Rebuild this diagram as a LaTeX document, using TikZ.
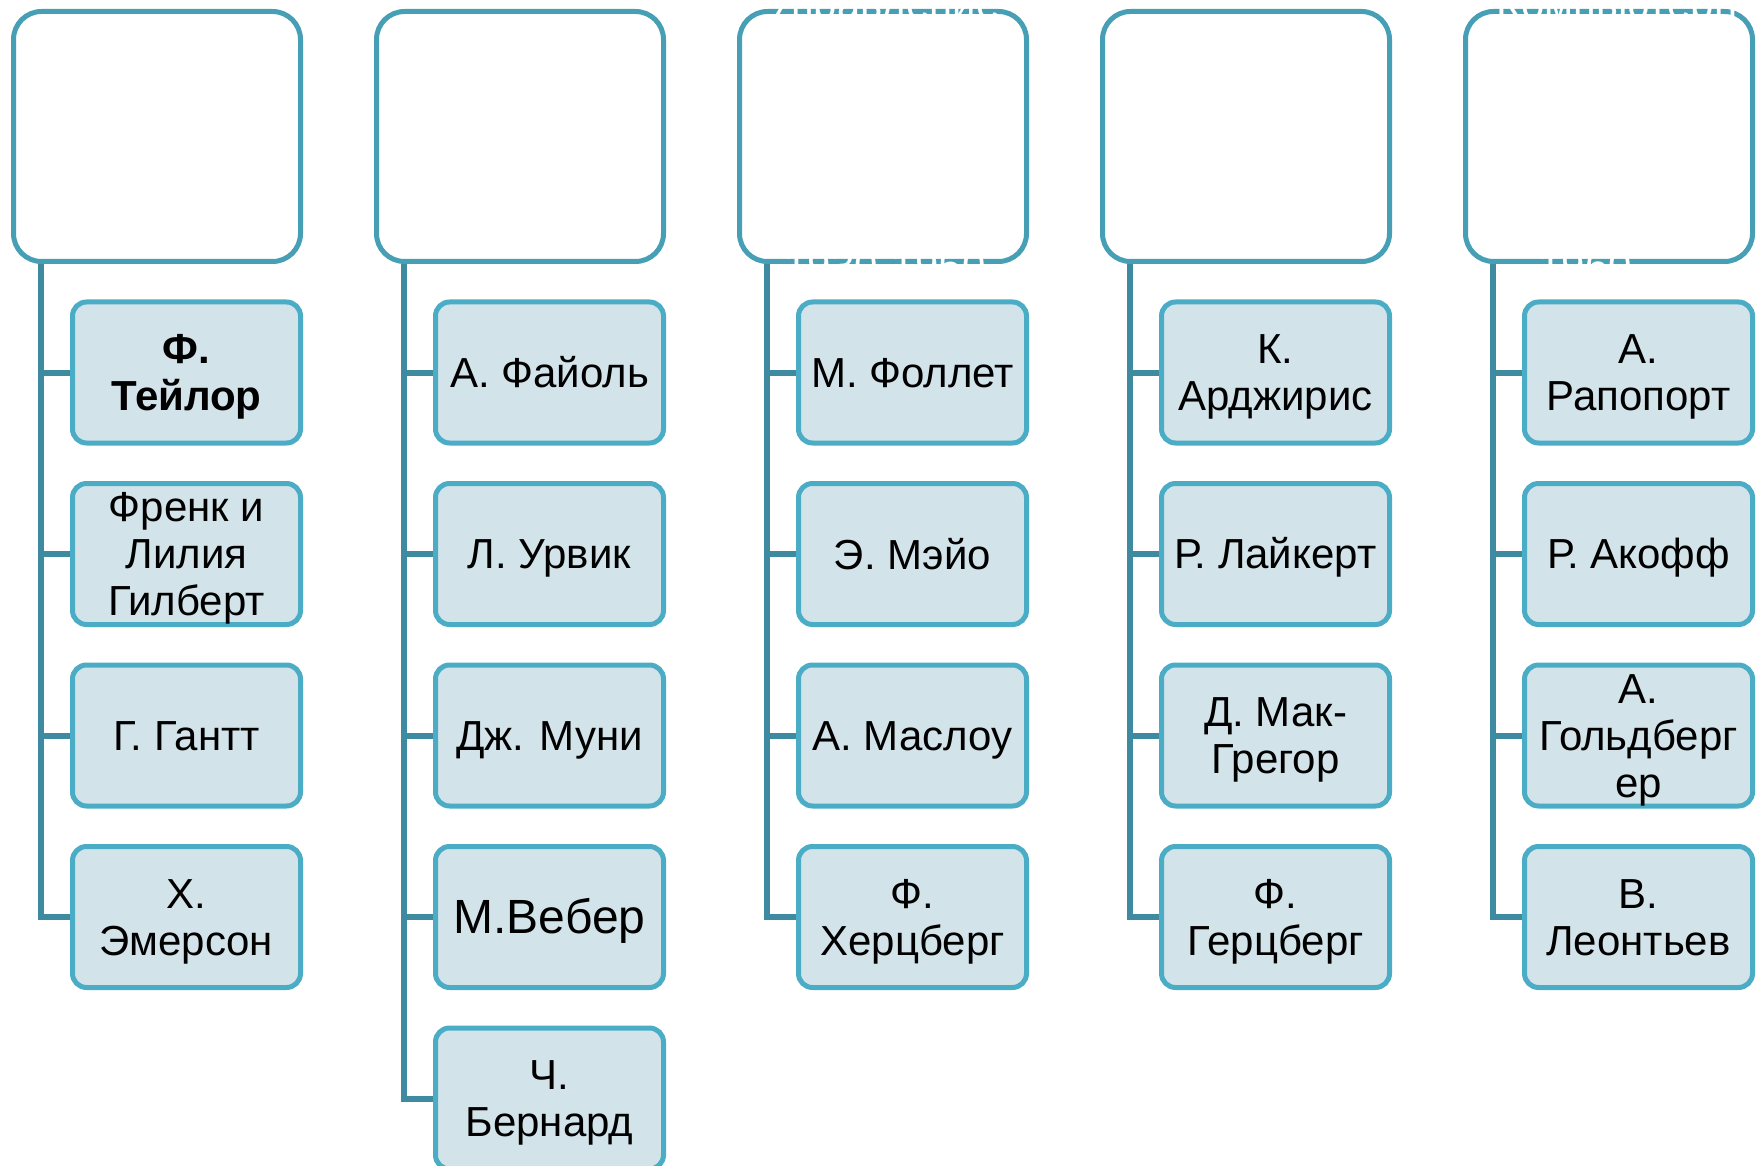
\documentclass[tikz,border=0pt]{standalone}
\usepackage{fontspec}
\setmainfont{Liberation Sans}
\usetikzlibrary{backgrounds}
\definecolor{headbd}{HTML}{469FB5}
\definecolor{kidbd}{HTML}{4BACC6}
\definecolor{kidfill}{HTML}{D2E3EA}
\definecolor{barcol}{HTML}{3E8AA0}
\newcommand\sr{\rule[-8pt]{0pt}{46.1pt}}
\newcommand\srb{\rule[-8pt]{0pt}{50.4pt}}
\tikzset{
 head/.style={draw=headbd, fill=white, line width=5pt, rounded corners=28pt, minimum width=287pt, minimum height=250pt, inner sep=0pt},
 kid/.style={draw=kidbd, fill=kidfill, line width=5pt, rounded corners=14pt, minimum width=228pt, minimum height=141pt, inner sep=0pt, align=center, font=\fontsize{42}{47}\selectfont, text=black},
 conn/.style={draw=barcol, line width=6pt},
 ghost/.style={text=white, font=\fontsize{42}{47}\selectfont, inner sep=0pt}
}
\begin{document}
\begin{tikzpicture}[x=1pt,y=-1pt]
\useasboundingbox (0,0) rectangle (1762,1166);
\clip (0,0) rectangle (1762,1166);
% headers
\node[head] (h1) at (157,136.5) {};
\node[head] (h2) at (520,136.5) {};
\node[head] (h3) at (883,136.5) {};
\node[head] (h4) at (1246,136.5) {};
\node[head] (h5) at (1609,136.5) {};
% column 1
\node[kid] (k11) at (186.5,372.5) {\sr\bfseries Ф.\\\sr\bfseries Тейлор};
\node[kid] (k12) at (186.5,554) {\sr Френк и\\\sr Лилия\\\sr Гилберт};
\node[kid] (k13) at (186.5,735.5) {\sr Г. Гантт};
\node[kid] (k14) at (186.5,917) {\sr Х.\\\sr Эмерсон};
% column 2
\node[kid] (k21) at (549.5,372.5) {\sr А. Файоль};
\node[kid] (k22) at (549.5,554) {\sr Л. Урвик};
\node[kid] (k23) at (549.5,735.5) {\sr Дж. Муни};
\node[kid, font=\fontsize{48}{52}\selectfont] (k24) at (549.5,917) {\srb М.Вебер};
\node[kid] (k25) at (549.5,1098.5) {\sr Ч.\\\sr Бернард};
% column 3
\node[kid] (k31) at (912.5,372.5) {\sr М. Фоллет};
\node[kid] (k32) at (912.5,554) {\sr Э. Мэйо};
\node[kid] (k33) at (912.5,735.5) {\sr А. Маслоу};
\node[kid] (k34) at (912.5,917) {\sr Ф.\\\sr Херцберг};
% column 4
\node[kid] (k41) at (1275.5,372.5) {\sr К.\\\sr Арджирис};
\node[kid] (k42) at (1275.5,554) {\sr Р. Лайкерт};
\node[kid] (k43) at (1275.5,735.5) {\sr Д. Мак-\\\sr Грегор};
\node[kid] (k44) at (1275.5,917) {\sr Ф.\\\sr Герцберг};
% column 5
\node[kid] (k51) at (1638.5,372.5) {\sr А.\\\sr Рапопорт};
\node[kid] (k52) at (1638.5,554) {\sr Р. Акофф};
\node[kid] (k53) at (1638.5,735.5) {\sr А.\\\sr Гольдберг\\\sr ер};
\node[kid] (k54) at (1638.5,917) {\sr В.\\\sr Леонтьев};
% white header text fragments
\node[ghost] (g3a) at (883,8) {Управление};
\node[ghost] (g3b) at (885,266) {1930-1950};
\node[ghost] (g5a) at (1617,8) {Компьютерн};
\node[ghost] (g5b) at (1592,266) {1960-};
% connectors
\begin{pgfonlayer}{background}
\coordinate (t1) at ([xshift=30pt]h1.south west);
\coordinate (t2) at ([xshift=30pt]h2.south west);
\coordinate (t3) at ([xshift=30pt]h3.south west);
\coordinate (t4) at ([xshift=30pt]h4.south west);
\coordinate (t5) at ([xshift=30pt]h5.south west);
\draw[conn] (t1) |- (k14.west);
\draw[conn] (t1 |- k11.west) -- (k11.west);
\draw[conn] (t1 |- k12.west) -- (k12.west);
\draw[conn] (t1 |- k13.west) -- (k13.west);
\draw[conn] (t2) |- (k25.west);
\draw[conn] (t2 |- k21.west) -- (k21.west);
\draw[conn] (t2 |- k22.west) -- (k22.west);
\draw[conn] (t2 |- k23.west) -- (k23.west);
\draw[conn] (t2 |- k24.west) -- (k24.west);
\draw[conn] (t3) |- (k34.west);
\draw[conn] (t3 |- k31.west) -- (k31.west);
\draw[conn] (t3 |- k32.west) -- (k32.west);
\draw[conn] (t3 |- k33.west) -- (k33.west);
\draw[conn] (t4) |- (k44.west);
\draw[conn] (t4 |- k41.west) -- (k41.west);
\draw[conn] (t4 |- k42.west) -- (k42.west);
\draw[conn] (t4 |- k43.west) -- (k43.west);
\draw[conn] (t5) |- (k54.west);
\draw[conn] (t5 |- k51.west) -- (k51.west);
\draw[conn] (t5 |- k52.west) -- (k52.west);
\draw[conn] (t5 |- k53.west) -- (k53.west);
\end{pgfonlayer}
\end{tikzpicture}
\end{document}
